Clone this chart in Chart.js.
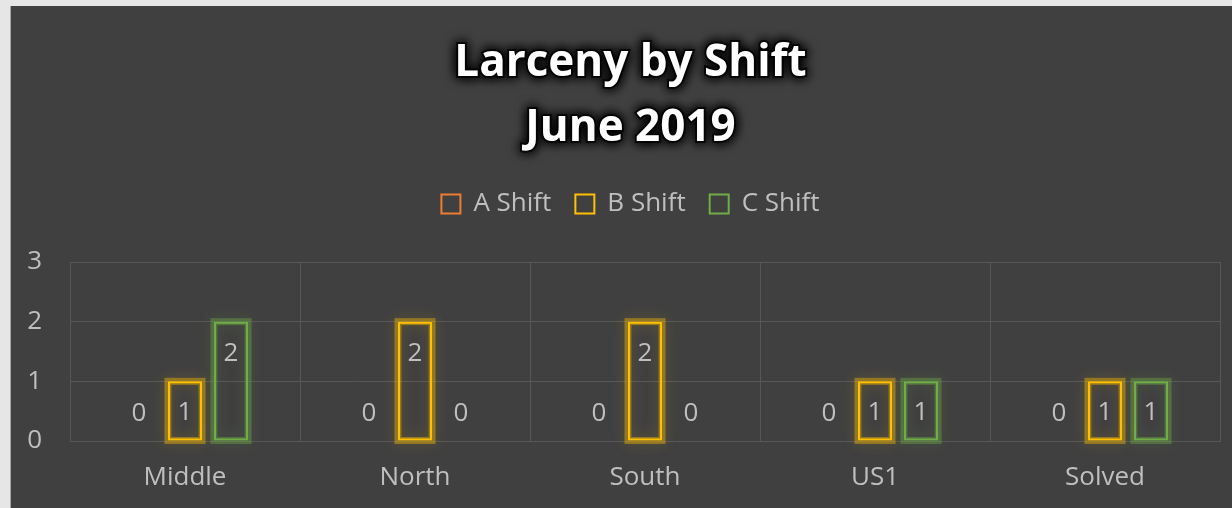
<!DOCTYPE html>
<html>
<head>
<meta charset="utf-8">
<script src="https://cdn.jsdelivr.net/npm/chart.js@4/dist/chart.umd.min.js"></script>
<style>
    body { margin: 0; background: #e6e6e6; overflow: hidden; }
    #wrap {
        position: absolute;
        left: 10px;
        top: 6px;
        width: 1240px;
        height: 502px;
        background: #404040;
        border-left: 1px solid #a6a6a6;
    }
    canvas { display: block; }
</style>
</head>
<body>
<div id="wrap"><canvas id="chart" width="1239" height="502"></canvas></div>
<script>
(function () {
    "use strict";

    const categories = ["Middle", "North", "South", "US1", "Solved"];
    const aShift = [0, 0, 0, 0, 0];
    const bShift = [1, 2, 2, 1, 1];
    const cShift = [2, 0, 0, 1, 1];
    const yTicks = [0, 1, 2, 3];
    const titleLines = ["Larceny by Shift", "June 2019"];

    const textColor = "#bfbfbf";
    const gridColor = "#575757";
    const font = "'Open Sans', 'Noto Sans', sans-serif";

    // dark glow behind the title text
    const titleGlow = {
        id: "titleGlow",
        beforeDraw(chart) {
            const t = chart.titleBlock;
            if (!t) return;
            const ctx = chart.ctx;
            const opts = t.options;
            const lh = 65;
            ctx.save();
            ctx.font = "bold 44px " + font;
            ctx.textAlign = "center";
            ctx.textBaseline = "middle";
            ctx.fillStyle = "#111";
            ctx.strokeStyle = "rgba(0,0,0,0.5)";
            ctx.lineWidth = 4;
            ctx.shadowColor = "rgba(0,0,0,1)";
            ctx.shadowBlur = 12;
            const cx = (t.left + t.right) / 2;
            for (let k = 0; k < 2; k++) {
                titleLines.forEach((line, i) => {
                    const y = t.top + opts.padding.top + lh / 2 + i * lh;
                    ctx.strokeText(line, cx, y);
                    ctx.fillText(line, cx, y);
                });
            }
            ctx.restore();
        },
    };

    // extra room under the legend
    const legendSpace = {
        id: "legendSpace",
        beforeLayout(chart) {
            const lg = chart.legend;
            if (!lg || lg._patched) return;
            const fit = lg.fit;
            lg.fit = function () {
                fit.call(this);
                this.height = 95;
            };
            lg._patched = true;
        },
    };

    // soft coloured glow round each bar
    const barGlow = {
        id: "barGlow",
        beforeDatasetsDraw(chart) {
            const ctx = chart.ctx;
            chart.data.datasets.forEach((ds, di) => {
                const meta = chart.getDatasetMeta(di);
                meta.data.forEach((bar, i) => {
                    if (!ds.data[i]) return;
                    const p = bar.getProps(["x", "y", "base", "width"], true);
                    ctx.save();
                    ctx.shadowColor = ds.glowColor;
                    ctx.shadowBlur = 14;
                    ctx.strokeStyle = ds.glowColor;
                    ctx.lineWidth = 7;
                    ctx.strokeRect(p.x - p.width / 2, p.y, p.width, p.base - p.y);
                    ctx.restore();
                });
            });
        },
    };

    // value labels near the top inside each bar
    const valueLabels = {
        id: "valueLabels",
        afterDatasetsDraw(chart) {
            const ctx = chart.ctx;
            const y = chart.scales.y;
            const unit = y.getPixelForValue(0) - y.getPixelForValue(1);
            ctx.save();
            ctx.font = "26px " + font;
            ctx.fillStyle = textColor;
            ctx.textAlign = "center";
            ctx.textBaseline = "middle";
            chart.data.datasets.forEach((ds, di) => {
                const meta = chart.getDatasetMeta(di);
                meta.data.forEach((bar, i) => {
                    const p = bar.getProps(["x", "y", "base"], true);
                    const top = Math.min(p.y, p.base - unit);
                    ctx.fillText(String(ds.data[i]), p.x, top + 32);
                });
            });
            ctx.restore();
        },
    };

    function series(label, data, color, glow) {
        return {
            label: label,
            data: data,
            borderColor: color,
            backgroundColor: "transparent",
            borderWidth: 2,
            borderSkipped: false,
            glowColor: glow,
        };
    }

    new Chart(document.getElementById("chart"), {
        type: "bar",
        data: {
            labels: categories,
            datasets: [
                series("A Shift", aShift, "#ed7d31", "rgba(237,125,49,0.4)"),
                series("B Shift", bShift, "#ffc000", "rgba(255,192,0,0.4)"),
                series("C Shift", cShift, "#70ad47", "rgba(112,173,71,0.4)"),
            ],
        },
        options: {
            responsive: false,
            animation: false,
            layout: { padding: 0 },
            datasets: {
                bar: { categoryPercentage: 0.6, barPercentage: 0.74 },
            },
            plugins: {
                title: {
                    display: true,
                    text: titleLines,
                    color: "#ffffff",
                    font: { family: font, size: 44, weight: "bold", lineHeight: 65 / 44 },
                    padding: { top: 25, bottom: 6 },
                },
                legend: {
                    position: "top",
                    labels: {
                        color: textColor,
                        font: { family: font, size: 26 },
                        boxWidth: 19,
                        boxHeight: 19,
                        padding: 24,
                    },
                },
                tooltip: { enabled: false },
            },
            scales: {
                x: {
                    grid: { color: gridColor, drawTicks: false },
                    border: { color: gridColor },
                    ticks: {
                        color: textColor,
                        font: { family: font, size: 26 },
                        padding: 21,
                    },
                    afterFit: (s) => { s.height = 67; },
                },
                y: {
                    min: 0,
                    max: 3,
                    afterBuildTicks: (s) => { s.ticks = yTicks.map((v) => ({ value: v })); },
                    grid: { color: gridColor, drawTicks: false },
                    border: { display: false },
                    ticks: {
                        color: textColor,
                        font: { family: font, size: 26 },
                        padding: 28,
                    },
                    afterFit: (s) => { s.width = 59; },
                },
                // empty right margin inside the chart box
                yRight: {
                    position: "right",
                    min: 0,
                    max: 3,
                    grid: { display: false },
                    border: { display: false },
                    ticks: { display: false },
                    afterFit: (s) => { s.width = 30; },
                },
            },
        },
        plugins: [titleGlow, legendSpace, barGlow, valueLabels],
    });
})();
</script>
</body>
</html>
